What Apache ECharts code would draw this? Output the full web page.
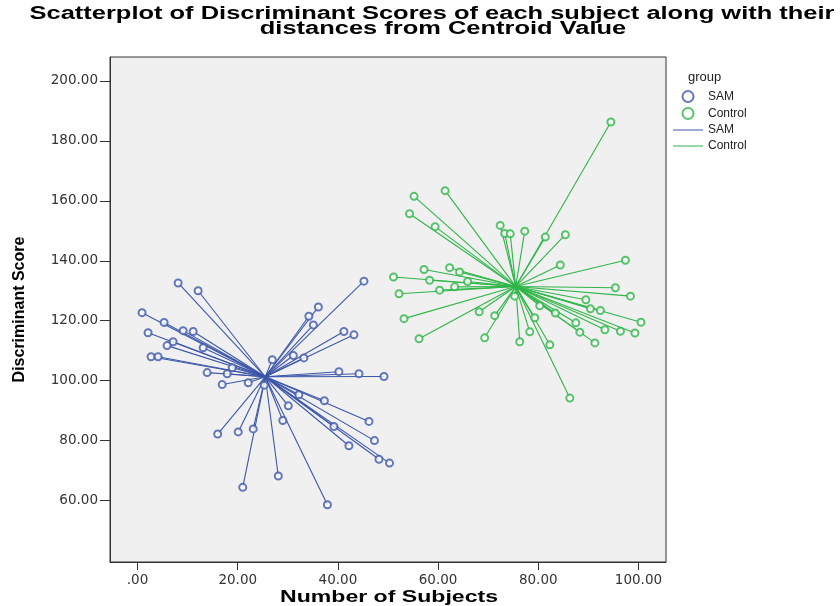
<!DOCTYPE html>
<html>
<head>
<meta charset="utf-8">
<script src="https://cdn.jsdelivr.net/npm/echarts@6/dist/echarts.min.js"></script>
<style>
  html, body { margin: 0; padding: 0; background: #fff; }
  #chart { width: 840px; height: 606px; }
</style>
</head>
<body>
<div id="chart"></div>
<script>
// discriminant scores: [subject, score]
const samPoints = [
  [8.1, 132.6], [12.1, 130], [0.9, 122.7], [5.3, 119.4], [9.1, 116.7],
  [11.1, 116.4], [2.1, 116], [7.1, 113], [5.9, 111.7], [13.1, 111],
  [2.7, 108], [4.1, 108], [26.9, 107], [31.1, 108.4], [18.9, 104.3],
  [13.9, 102.7], [17.9, 102.3], [16.9, 98.7], [22.1, 99.3], [30.1, 91.6],
  [45.2, 133.2], [36.1, 124.6], [34.2, 121.5], [35.1, 118.6], [41.2, 116.4],
  [43.2, 115.3], [33.2, 107.6], [40.2, 103], [44.2, 102.3], [49.2, 101.4],
  [32.2, 95.3], [37.3, 93.3], [29.0, 86.7], [46.2, 86.4], [39.2, 84.7],
  [47.3, 80], [42.2, 78.3], [48.2, 73.8], [50.3, 72.5], [23.1, 83.9],
  [25.3, 98.5], [16, 82.2], [20.1, 82.9], [28.1, 68.2], [21, 64.4],
  [37.9, 58.6]
]
const controlPoints = [
  [61.4, 163.4], [55.2, 161.5], [54.3, 155.7], [59.4, 151.4], [72.4, 151.8],
  [73.3, 149.1], [74.4, 149], [77.3, 149.9], [57.2, 137.1], [62.3, 137.7],
  [64.3, 136.3], [51.1, 134.6], [58.3, 133.5], [60.3, 130.2], [52.2, 129],
  [63.3, 131.3], [65.9, 133.1], [53.2, 120.7], [56.2, 114], [68.2, 123],
  [71.3, 121.7], [69.3, 114.3], [76.3, 113], [75.3, 128.2], [78.3, 116.3],
  [79.3, 121], [82.3, 112], [94.5, 186.3], [85.4, 148.7], [81.4, 147.9],
  [84.4, 138.6], [97.4, 140.2], [95.4, 131], [98.4, 128.2], [89.5, 127],
  [90.4, 124], [92.4, 123.4], [80.3, 125], [83.4, 122.6], [87.5, 119.3],
  [100.5, 119.5], [88.3, 116.2], [93.3, 117], [96.4, 116.5], [99.3, 115.9],
  [91.3, 112.6], [86.3, 94.2]
]
const samCentroid = [25.5, 101.3]
const controlCentroid = [75.5, 131.4]

const xTicks = [0, 20, 40, 60, 80, 100]
const yTicks = [60, 80, 100, 120, 140, 160, 180, 200]

const titleLines = [
  'Scatterplot of Discriminant Scores of each subject along with their',
  'distances from Centroid Value'
]
const xTitle = 'Number of Subjects'

const samColor = '#3d56aa'
const controlColor = '#2fb548'

const fmt = v => (v === 0 ? '.00' : v.toFixed(2))

const toSpokes = (points, centre) => points.map(p => ({ coords: [p, centre] }))

// the original export is stretched sideways, so widen the bold texts to match
const ctx = document.createElement('canvas').getContext('2d')
const stretchTo = (text, font, width) => {
  ctx.font = font
  return width / ctx.measureText(text).width
}
const titleFont = 'bold 18px Arial'
const titleScale = stretchTo(titleLines[0], titleFont, 805)
const xTitleFont = 'bold 17px Arial'
const xTitleScale = stretchTo(xTitle, xTitleFont, 218)

const chart = echarts.init(document.getElementById('chart'))

const option = {
  animation: false,
  title: {
    text: 'group',
    left: 683,
    top: 66,
    textStyle: { fontFamily: 'Arial', fontSize: 13, fontWeight: 'normal', color: '#222' }
  },
  graphic: [
    {
      type: 'text',
      x: 432,
      y: 14,
      scaleX: titleScale,
      style: {
        text: titleLines[0],
        font: titleFont,
        fill: '#000',
        textAlign: 'center',
        textVerticalAlign: 'middle'
      }
    },
    {
      type: 'text',
      x: 443,
      y: 29,
      scaleX: titleScale,
      style: {
        text: titleLines[1],
        font: titleFont,
        fill: '#000',
        textAlign: 'center',
        textVerticalAlign: 'middle'
      }
    },
    {
      type: 'text',
      x: 389,
      y: 597,
      scaleX: xTitleScale,
      style: {
        text: xTitle,
        font: xTitleFont,
        fill: '#000',
        textAlign: 'center',
        textVerticalAlign: 'middle'
      }
    }
  ],
  legend: {
    orient: 'vertical',
    left: 668,
    top: 85,
    itemWidth: 30,
    itemHeight: 11,
    itemGap: 4,
    textStyle: { fontFamily: 'Arial', fontSize: 12, color: '#222' },
    formatter: name => name.trim(),
    data: [
      { name: 'SAM', icon: 'emptyCircle' },
      { name: 'Control', icon: 'emptyCircle' },
      { name: 'SAM ', icon: 'path://M0,0h30v1h-30z', itemStyle: { borderWidth: 0 } },
      { name: 'Control ', icon: 'path://M0,0h30v1h-30z', itemStyle: { borderWidth: 0 } }
    ]
  },
  grid: {
    left: 110,
    right: 174,
    top: 57,
    bottom: 44,
    show: true,
    backgroundColor: '#f0f0f0',
    borderColor: '#333',
    borderWidth: 1
  },
  xAxis: {
    type: 'value',
    min: -5.5,
    max: 105.5,
    axisLine: { show: true, onZero: false, lineStyle: { color: '#333' } },
    axisTick: { show: true, customValues: xTicks, length: 8, lineStyle: { color: '#333' } },
    axisLabel: {
      customValues: xTicks,
      formatter: fmt,
      margin: 11,
      fontFamily: 'DejaVu Sans',
      fontSize: 13.5,
      color: '#333'
    },
    splitLine: { show: false }
  },
  yAxis: {
    type: 'value',
    min: 39.5,
    max: 208,
    name: 'Discriminant Score',
    nameLocation: 'middle',
    nameGap: 82,
    nameTextStyle: {
      fontFamily: 'Liberation Sans Narrow, Arial Narrow, Arial',
      fontSize: 16,
      fontWeight: 'bold',
      color: '#000'
    },
    axisLine: { show: true, onZero: false, lineStyle: { color: '#333' } },
    axisTick: { show: true, customValues: yTicks, length: 10, lineStyle: { color: '#333' } },
    axisLabel: {
      customValues: yTicks,
      formatter: fmt,
      margin: 12,
      fontFamily: 'DejaVu Sans',
      fontSize: 13.5,
      color: '#333'
    },
    splitLine: { show: false }
  },
  series: [
    {
      name: 'SAM ',
      type: 'lines',
      coordinateSystem: 'cartesian2d',
      data: toSpokes(samPoints, samCentroid),
      lineStyle: { color: samColor, width: 1.1, opacity: 1 },
      itemStyle: { color: samColor },
      z: 2
    },
    {
      name: 'Control ',
      type: 'lines',
      coordinateSystem: 'cartesian2d',
      data: toSpokes(controlPoints, controlCentroid),
      lineStyle: { color: controlColor, width: 1.1, opacity: 1 },
      itemStyle: { color: controlColor },
      z: 2
    },
    {
      name: 'SAM',
      type: 'scatter',
      symbol: 'emptyCircle',
      symbolSize: 7,
      data: samPoints,
      itemStyle: { color: samColor, borderColor: samColor, borderWidth: 1 },
      z: 3
    },
    {
      name: 'Control',
      type: 'scatter',
      symbol: 'emptyCircle',
      symbolSize: 7,
      data: controlPoints,
      itemStyle: { color: controlColor, borderColor: controlColor, borderWidth: 1 },
      z: 3
    }
  ]
}

chart.setOption(option)
</script>
</body>
</html>
